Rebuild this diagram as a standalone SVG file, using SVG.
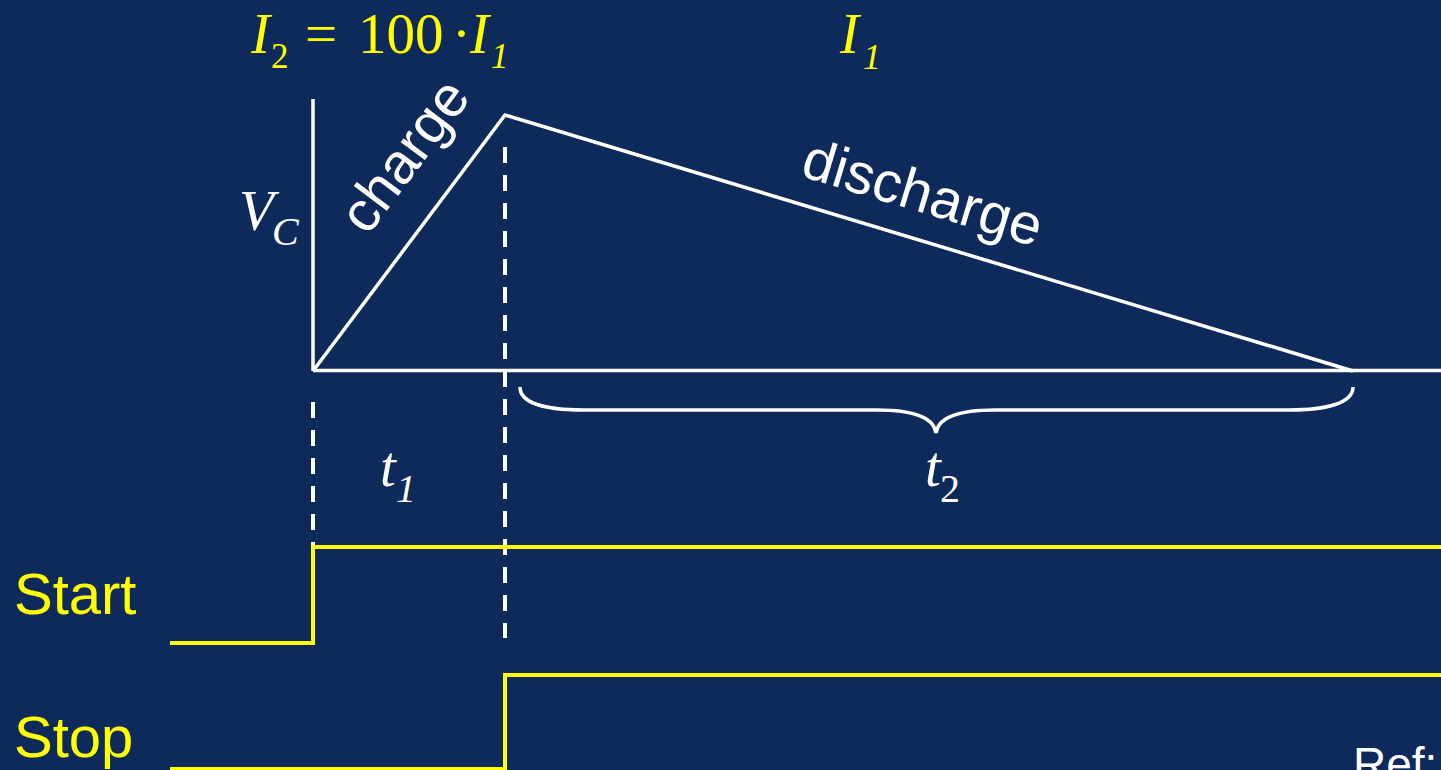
<svg xmlns="http://www.w3.org/2000/svg" width="1441" height="770" viewBox="0 0 1441 770">
<style>
.w{stroke:#FFFFFF;stroke-width:3.5;fill:none}
.d{stroke:#FFFFFF;stroke-width:4;fill:none;stroke-dasharray:16 12}
.y{stroke:#FFFF00;stroke-width:4;fill:none}
.m{font-family:"Liberation Serif","Times New Roman",serif}
.i{font-style:italic}
.s{font-family:"Liberation Sans",Arial,sans-serif}
</style>
<rect x="0" y="0" width="1441" height="770" fill="#0E2A5B"/>
<g id="connectors">
<line class="w" x1="313" y1="99" x2="313" y2="371"/>
<line class="w" x1="313" y1="370.5" x2="1441" y2="370.5"/>
<polyline class="w" points="313,371 505,115 1353,371" stroke-linejoin="miter"/>
<line class="d" x1="505" y1="147" x2="505" y2="638"/>
<line class="d" x1="313" y1="402" x2="313" y2="547"/>
<path class="w" d="M520,387 C520,403 545,410 583,410 L877,410 C915,410 934,418 936,433 C938,418 957,410 995,410 L1289,410 C1327,410 1353,403 1353,387"/>
<polyline class="y" points="170,643 313,643 313,547 1441,547"/>
<polyline class="y" points="170,769 505,769 505,675 1441,675"/>
</g>
<g id="formula-top" class="m" fill="#FFFF00">
<text y="53" font-size="57"><tspan class="i" x="251">I</tspan><tspan x="271" y="68" font-size="35">2</tspan><tspan x="305" y="53">=</tspan><tspan x="358">100</tspan><tspan x="452">·</tspan><tspan class="i" x="470">I</tspan><tspan class="i" x="491" y="68" font-size="35">1</tspan></text>
</g>
<g id="label-i1" class="m" fill="#FFFF00">
<text y="53" font-size="57"><tspan class="i" x="840">I</tspan><tspan class="i" x="863" y="69" font-size="36">1</tspan></text>
</g>
<g id="label-vc" class="m i" fill="#FFFFFF">
<text y="230" font-size="57"><tspan x="239">V</tspan><tspan x="272" y="245" font-size="40">C</tspan></text>
</g>
<g id="label-charge" class="s" fill="#FFFFFF">
<text transform="translate(313,371) rotate(-53.13)" x="140" y="-37" font-size="57">charge</text>
</g>
<g id="label-discharge" class="s" fill="#FFFFFF">
<text transform="translate(505,115) rotate(16.8)" x="299" y="-27" font-size="57">discharge</text>
</g>
<g id="label-t1" class="m i" fill="#FFFFFF">
<text y="486" font-size="57"><tspan x="380">t</tspan><tspan x="396" y="502" font-size="40">1</tspan></text>
</g>
<g id="label-t2" class="m" fill="#FFFFFF">
<text y="486" font-size="57"><tspan class="i" x="925">t</tspan><tspan x="940" y="502" font-size="40">2</tspan></text>
</g>
<g id="label-start" class="s" fill="#FFFF00">
<text x="14" y="614" font-size="58">Start</text>
</g>
<g id="label-stop" class="s" fill="#FFFF00">
<text x="14" y="757" font-size="58">Stop</text>
</g>
<g id="label-ref" class="s" fill="#FFFFFF">
<text x="1353" y="780" font-size="46">Ref:</text>
</g>
</svg>
